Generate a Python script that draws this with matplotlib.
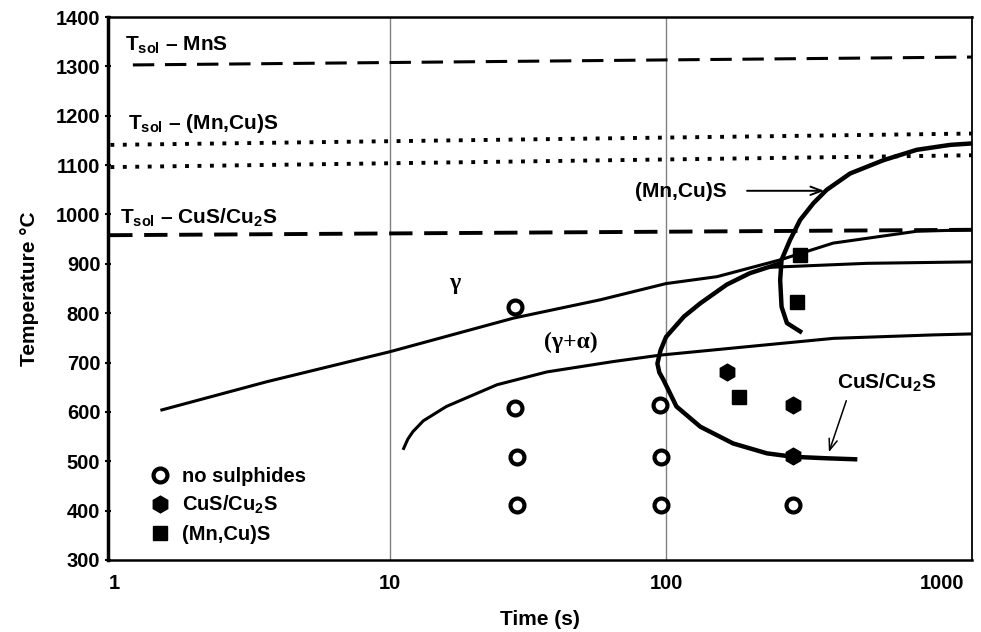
import matplotlib
matplotlib.use('Agg')
import matplotlib.pyplot as plt

plt.rcParams['font.family'] = ['Liberation Sans', 'DejaVu Sans']
plt.rcParams['font.weight'] = 'bold'
plt.rcParams['mathtext.fontset'] = 'custom'
plt.rcParams['mathtext.rm'] = 'Liberation Sans:bold'
plt.rcParams['mathtext.it'] = 'Liberation Sans:bold'
plt.rcParams['mathtext.bf'] = 'Liberation Sans:bold'

# solidus lines (time s, temperature C)
mns_t = [1.17, 1285]
mns_T = [1303, 1319]
mncus_hi_t = [0.97, 1285]
mncus_hi_T = [1141, 1164]
mncus_lo_t = [0.97, 1285]
mncus_lo_T = [1096, 1120]
cus_sol_t = [0.96, 1285]
cus_sol_T = [958, 969]

# phase boundaries
upper_t = [1.49, 3.57, 10, 28, 57.6, 100, 153, 259, 403, 809, 1285]
upper_T = [604, 661, 722, 790, 827, 860, 874, 908, 942, 966, 969]
branch_t = [240, 533, 1285]
branch_T = [893, 901, 904]
lower_t = [11.2, 11.6, 12.1, 13.2, 16.0, 24.4, 37.0, 64.4, 95.1, 232, 404, 930, 1285]
lower_T = [526, 545, 560, 582, 611, 655, 681, 702, 715, 736, 749, 756, 758]

# precipitation C-curves
cus_curve_t = [259, 201, 166, 133, 116, 100, 95.5, 93, 94.5, 97.8, 109, 133, 175, 232, 289, 382, 484]
cus_curve_T = [901, 881, 858, 820, 793, 752, 725, 698, 680, 665, 611, 570, 536, 516, 509, 506, 504]
mn_curve_t = [306, 274, 262, 259, 262, 281, 306, 342, 382, 464, 613, 809, 1069, 1285]
mn_curve_T = [763, 780, 813, 867, 908, 948, 989, 1023, 1050, 1083, 1110, 1131, 1141, 1144]

# experimental points
none_t = [28.4, 28.4, 28.8, 28.8, 95, 96, 96, 289]
none_T = [813, 607, 509, 411, 614, 509, 411, 411]
cus_pt_t = [166, 289, 289]
cus_pt_T = [681, 614, 511]
mn_pt_t = [183, 298, 306]
mn_pt_T = [631, 823, 918]

fig = plt.figure(figsize=(9.81, 6.32), dpi=100, facecolor='w')
ax = fig.add_axes([0.110, 0.114, 0.881, 0.859])
ax.set_xscale('log')
ax.set_xlim(0.95, 1285)
ax.set_ylim(300, 1400)

for xv in [10, 100]:
    ax.axvline(xv, color='#808080', lw=1.0, zorder=1)

ax.plot(mns_t, mns_T, color='k', lw=2.2, linestyle=(0, (7, 3.5)))
ax.plot(mncus_hi_t, mncus_hi_T, color='k', lw=2.8, linestyle=(0, (1, 2.2)))
ax.plot(mncus_lo_t, mncus_lo_T, color='k', lw=2.8, linestyle=(0, (1, 2.2)))
ax.plot(cus_sol_t, cus_sol_T, color='k', lw=2.8, linestyle=(0, (6, 3)))

ax.plot(upper_t, upper_T, color='k', lw=2.2)
ax.plot(branch_t, branch_T, color='k', lw=2.2)
ax.plot(lower_t, lower_T, color='k', lw=2.2)
ax.plot(cus_curve_t, cus_curve_T, color='k', lw=3.2)
ax.plot(mn_curve_t, mn_curve_T, color='k', lw=3.2)

ax.plot(none_t, none_T, linestyle='none', marker='o', ms=10, mfc='w', mec='k', mew=3,
        label='no sulphides')
ax.plot(cus_pt_t, cus_pt_T, linestyle='none', marker='h', ms=12, color='k', label='CuS/Cu$_2$S')
ax.plot(mn_pt_t, mn_pt_T, linestyle='none', marker='s', ms=10, color='k', label='(Mn,Cu)S')

ax.text(1.10, 1343, 'T$_{sol}$ – MnS', fontsize=15, va='center')
ax.text(1.12, 1185, 'T$_{sol}$ – (Mn,Cu)S', fontsize=15, va='center')
ax.text(1.05, 993, 'T$_{sol}$ – CuS/Cu$_2$S', fontsize=15, va='center')
ax.text(17.2, 861, 'γ', fontsize=17, family='Liberation Serif', weight='bold', ha='center', va='center')
ax.text(45.3, 740, '(γ+α)', fontsize=17, family='Liberation Serif', weight='bold', ha='center', va='center')
ax.text(113, 1046, '(Mn,Cu)S', fontsize=15, ha='center', va='center')
ax.text(632, 659, 'CuS/Cu$_2$S', fontsize=15, ha='center', va='center')

ax.annotate('', xy=(383, 1048), xytext=(192, 1048),
            arrowprops=dict(arrowstyle='->,head_length=0.8,head_width=0.3', lw=1.4, color='k'))
ax.annotate('', xy=(386, 513), xytext=(453, 628),
            arrowprops=dict(arrowstyle='->,head_length=0.8,head_width=0.3', lw=1.1, color='k'))

ax.set_xticks([1, 10, 100, 1000])
ax.set_xticklabels(['1', '10', '100', '1000'])
ax.set_yticks(range(300, 1401, 100))
ax.minorticks_off()
ax.tick_params(axis='both', labelsize=14.5, width=1.5, length=4, direction='inout')
ax.tick_params(axis='x', length=0, pad=10)
for lab in ax.get_xticklabels() + ax.get_yticklabels():
    lab.set_fontweight('bold')

ax.spines['left'].set_linewidth(2.5)
ax.spines['bottom'].set_linewidth(1.8)
ax.spines['top'].set_linewidth(1.8)
ax.spines['right'].set_linewidth(1.3)

ax.set_xlabel('Time (s)', fontsize=15, fontweight='bold', labelpad=12)
ax.set_ylabel('Temperature °C', fontsize=15, fontweight='bold', labelpad=12)

ax.legend(loc='lower left', bbox_to_anchor=(0.03, 0.0), frameon=False, fontsize=14.5,
          handlelength=1.0, handletextpad=0.6, labelspacing=0.42, borderpad=0.3)

fig.savefig('out.png', dpi=100)
